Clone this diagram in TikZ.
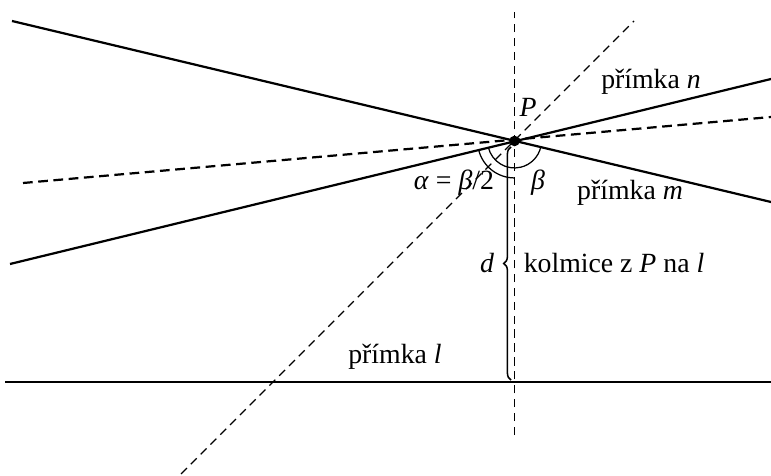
\documentclass[tikz,border=0pt]{standalone}
\usepackage{fontspec}
\setmainfont{Liberation Serif}
\usetikzlibrary{angles,calc,decorations.pathreplacing}

\begin{document}
\begin{tikzpicture}[x=0.36pt, y=0.36pt,
  thinline/.style={line width=0.45pt},
  thickline/.style={line width=0.8pt},
  thindash/.style={line width=0.4pt, dash pattern=on 3pt off 2pt},
  thickdash/.style={line width=0.8pt, dash pattern=on 3.5pt off 2pt},
  lbl/.style={inner sep=1pt, font=\normalsize}]
\useasboundingbox (0,0) rectangle (771,475);

% Points
\coordinate (P) at (514.5, 334);
\coordinate (F) at (514.5, 93);
\coordinate (mA) at (12, 454);
\coordinate (mB) at (771, 273);
\coordinate (nA) at (10, 211);
\coordinate (nB) at (771, 396);
\coordinate (bA) at (23, 292);
\coordinate (bB) at (771, 358);
\coordinate (dA) at (181, 1);
\coordinate (dB) at (634, 454);
\coordinate (vA) at (514.5, 40);
\coordinate (vB) at (514.5, 463);
\coordinate (lA) at (5, 93);
\coordinate (lB) at (771, 93);

% Line l
\draw[thinline] (lA) -- (lB);

% Dashed helper lines
\draw[thindash] (vA) -- (vB);
\draw[thindash] (dA) -- (dB);
\draw[thickdash] (bA) -- (bB);

% Lines m and n
\draw[thickline] (mA) -- (mB);
\draw[thickline] (nA) -- (nB);

% Angles
\pic[draw, thinline, angle radius=13.3pt] {angle = nA--P--F};
\pic[draw, thinline, angle radius=9.7pt] {angle = nA--P--mB};

% Perpendicular with brace
\coordinate (brB) at (511, 95);
\coordinate (brT) at (511, 328);
\draw[line width=0.55pt, decorate, decoration={brace, amplitude=2.6pt}] (brB) -- (brT);

% Point P
\fill (P) circle (1.9pt);

% Labels
\node[lbl] (labP) at (528, 368) {\textit{P}};
\node[lbl] (labn) at (651, 393) {přímka \textit{n}};
\node[lbl] (labm) at (630, 282) {přímka \textit{m}};
\node[lbl] (laba) at (454, 292) {\textit{α} = \textit{β}/2};
\node[lbl] (labb) at (538, 292) {\textit{β}};
\node[lbl] (labd) at (487, 212) {\textit{d}};
\node[lbl] (labk) at (614, 212) {kolmice z \textit{P} na \textit{l}};
\node[lbl] (labl) at (395, 118) {přímka \textit{l}};

\end{tikzpicture}
\end{document}
